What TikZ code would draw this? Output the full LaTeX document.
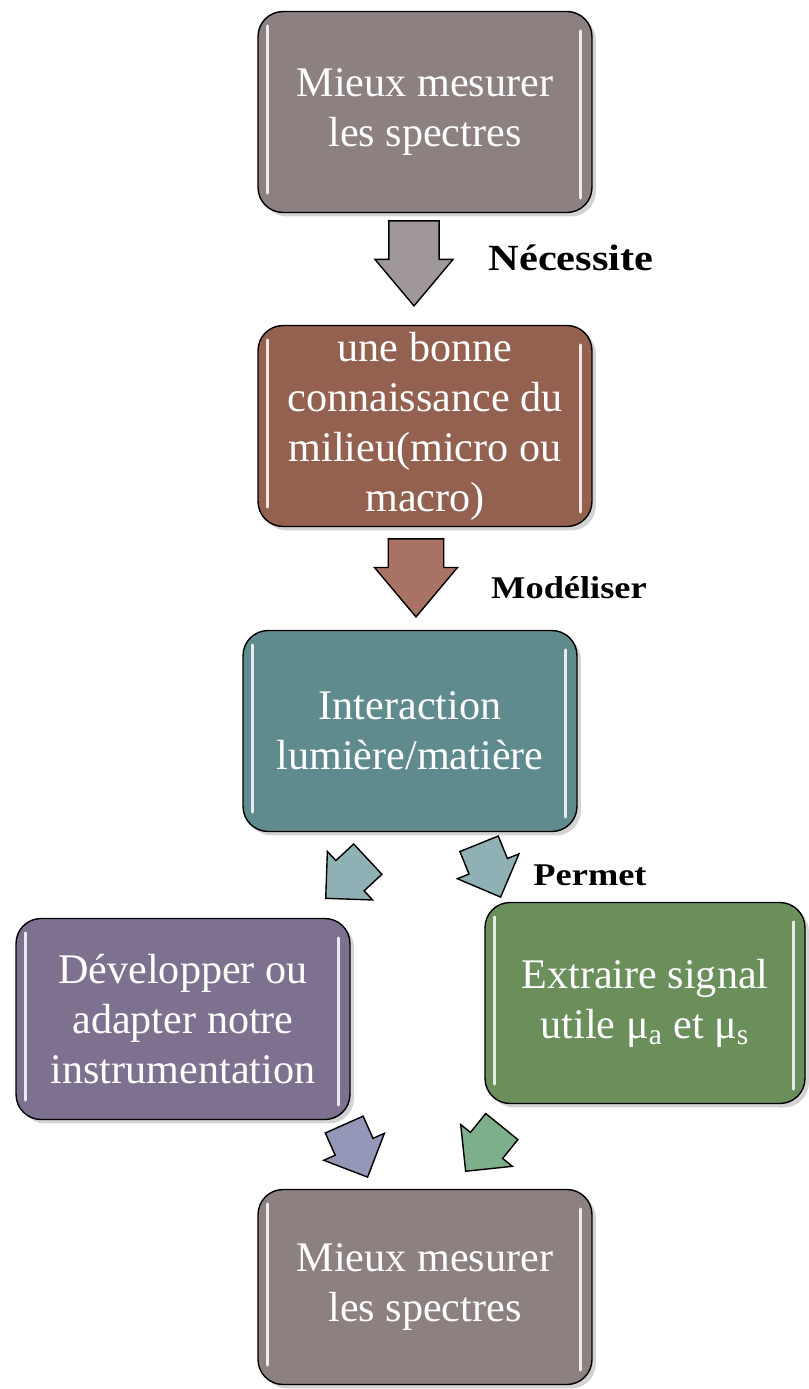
\documentclass[tikz,border=0pt]{standalone}
\usepackage{fontspec}
\setmainfont{Liberation Serif}
\newfontfamily\tagfont[FakeStretch=1.15]{Liberation Serif}
\usetikzlibrary{shapes.arrows,shadows}
\definecolor{mauvebox}{HTML}{8C8081}
\definecolor{brickbox}{HTML}{94604F}
\definecolor{tealbox}{HTML}{5F8A8E}
\definecolor{lilacbox}{HTML}{7D718F}
\definecolor{greenbox}{HTML}{6A8F5B}
\definecolor{mauvearrow}{HTML}{A0979A}
\definecolor{brickarrow}{HTML}{A87364}
\definecolor{tealarrow}{HTML}{8FB0B4}
\definecolor{lilacarrow}{HTML}{9597B8}
\definecolor{greenarrow}{HTML}{7DB08A}
\begin{document}
\begin{tikzpicture}[x=0.02cm, y=-0.02cm,
    box/.style={draw, thick, rectangle, rounded corners=0.5cm, minimum width=6.68cm,
                minimum height=4.02cm, inner sep=2pt, text centered, align=center, text=white,
                font=\fontsize{24}{28.5}\selectfont,
                drop shadow={opacity=0.35, shadow xshift=0.8mm, shadow yshift=-0.8mm}},
    bigarrow/.style={draw, thick, single arrow, single arrow tip angle=80, inner xsep=0pt,
                     inner ysep=0.44cm, minimum height=1.7cm, minimum width=1.56cm, anchor=tip},
    smallarrow/.style={draw, thick, single arrow, single arrow tip angle=90, inner xsep=0pt,
                       inner ysep=0.4cm, minimum height=1.15cm, minimum width=1.3cm, anchor=tip},
    tag/.style={font=\tagfont\bfseries\fontsize{18}{20}\selectfont},
    gloss/.style={white, line width=1.5pt, opacity=0.85, line cap=round}]
    \useasboundingbox (0,0) rectangle (808,1389);
    \node[box, fill=mauvebox] (top)    at (425, 112) {Mieux mesurer\\les spectres};
    \node[box, fill=brickbox] (need)   at (425, 426) {une bonne\\connaissance du\\milieu(micro ou\\macro)};
    \node[box, fill=tealbox]  (inter)  at (410, 731) {Interaction\\lumière/matière};
    \node[box, fill=lilacbox] (dev)    at (183, 1019) {Développer ou\\adapter notre\\instrumentation};
    \node[box, fill=greenbox, minimum width=6.4cm] (extr) at (645, 1003)
        {Extraire signal\\utile μ\textsubscript{a} et μ\textsubscript{s}};
    \node[box, fill=mauvebox, minimum height=3.9cm] (bottom) at (425, 1287) {Mieux mesurer\\les spectres};
    \foreach \n in {top,need,inter,dev,extr,bottom}{
        \draw[gloss] ([xshift=0.2cm,yshift=-0.3cm]\n.north west) -- ([xshift=0.2cm,yshift=0.4cm]\n.south west);
        \draw[gloss] ([xshift=-0.24cm,yshift=-0.4cm]\n.north east) -- ([xshift=-0.24cm,yshift=0.3cm]\n.south east);
    }
    % block arrows between the boxes (placed by their tips)
    \node[bigarrow, fill=mauvearrow, rotate=-90] (a1) at (414, 307) {};
    \node[bigarrow, fill=brickarrow, rotate=-90, minimum height=1.56cm,
          minimum width=1.66cm, inner ysep=0.49cm] (a2) at (416, 618) {};
    \node[smallarrow, fill=tealarrow, rotate=-137] (a3) at (325, 899) {};
    \node[smallarrow, fill=tealarrow, rotate=-68] (a4) at (501, 898) {};
    \node[smallarrow, fill=lilacarrow, rotate=-66] (a5) at (368, 1178) {};
    \node[smallarrow, fill=greenarrow, rotate=-129] (a6) at (465, 1172) {};
    \node[tag, font=\tagfont\bfseries\fontsize{21}{23}\selectfont] (need label) at (571, 258) {Nécessite};
    \node[tag] (model label) at (569, 588) {Modéliser};
    \node[tag] (allow label) at (590, 875) {Permet};
\end{tikzpicture}
\end{document}
